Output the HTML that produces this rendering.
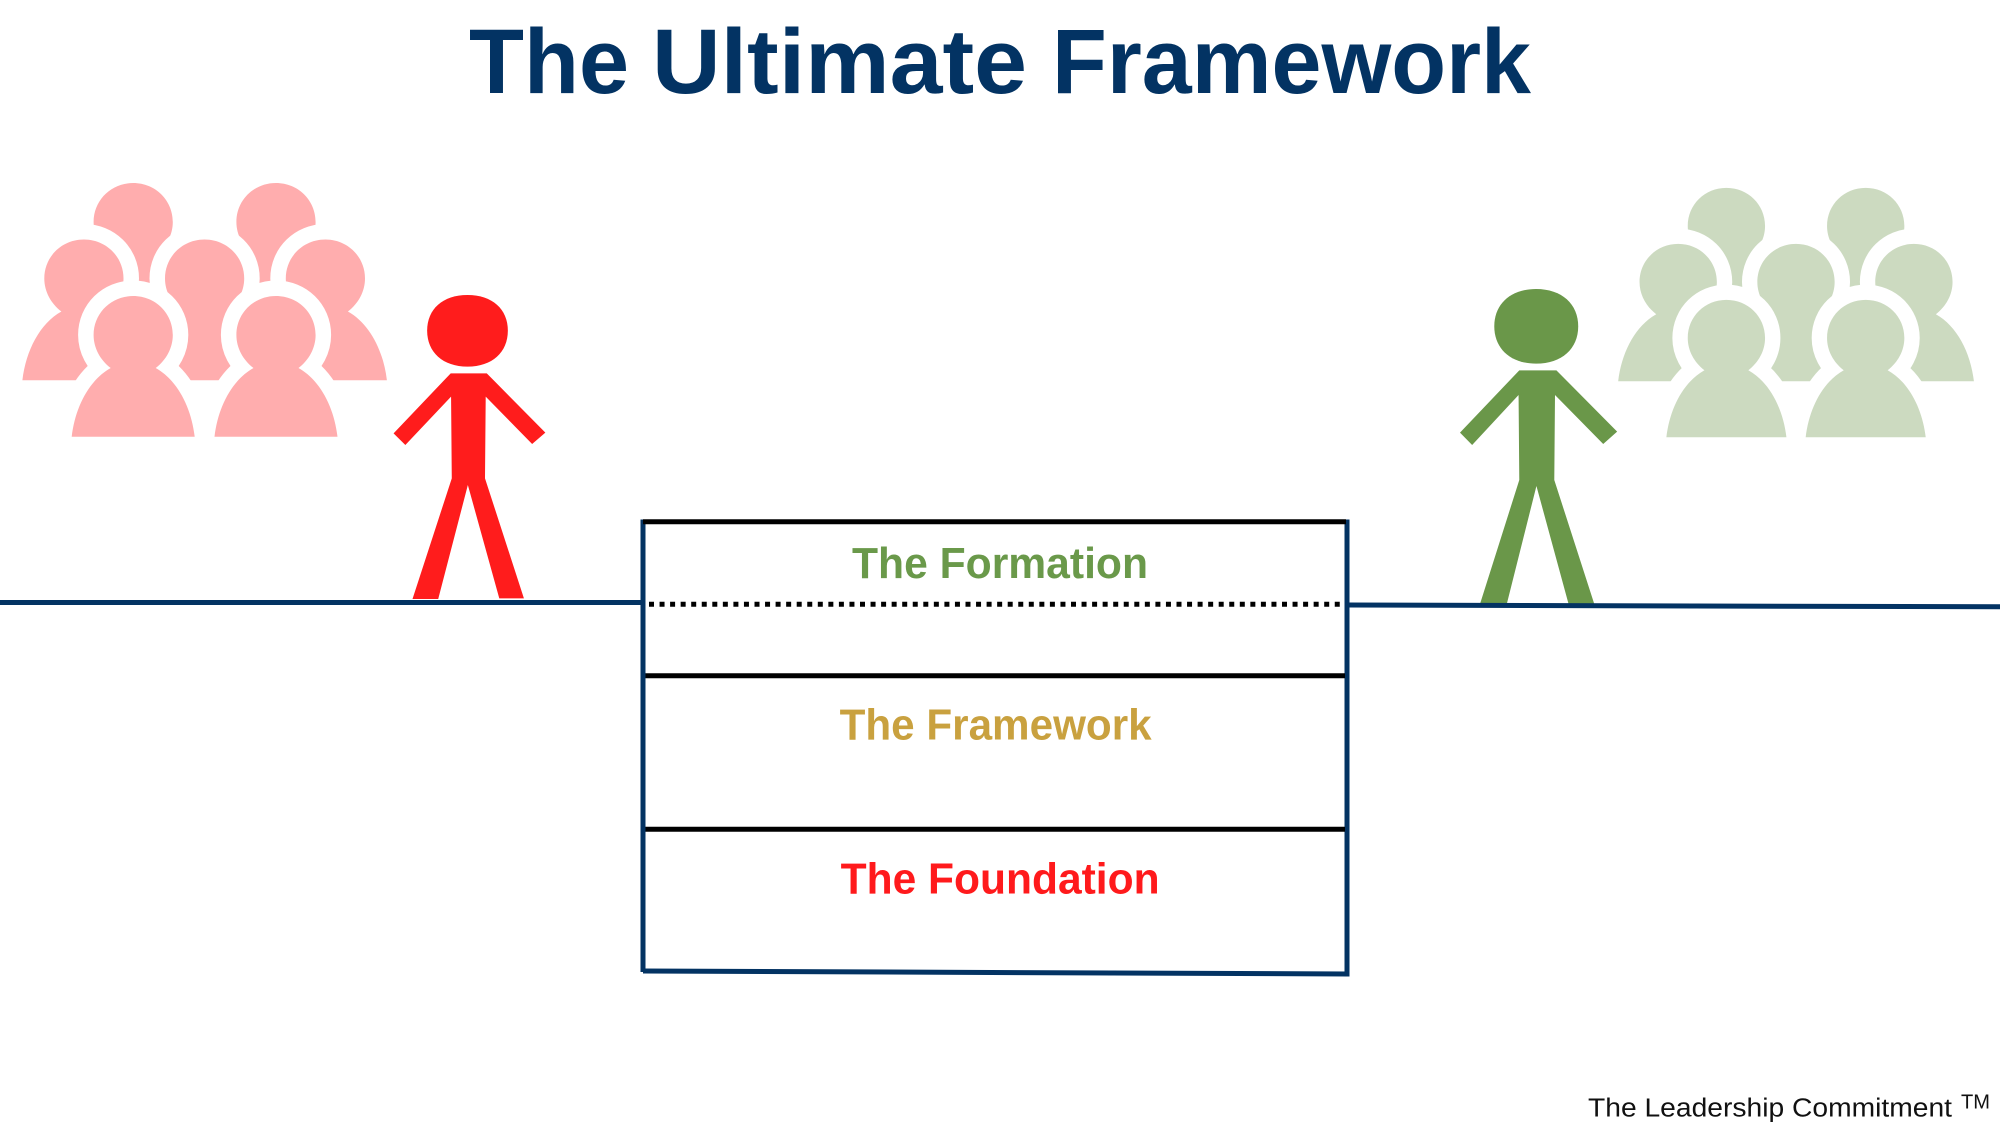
<!DOCTYPE html>
<html>
<head>
<meta charset="utf-8">
<title>The Ultimate Framework</title>
<style>
html,body{margin:0;padding:0;background:#fff;width:2000px;height:1125px;overflow:hidden}
svg{display:block}
text{font-family:"Liberation Sans",sans-serif}
</style>
</head>
<body>
<svg width="2000" height="1125" viewBox="0 0 2000 1125" xmlns="http://www.w3.org/2000/svg">
<defs>
<path id="p" d="M-22.5,33 C-44,45 -58,72 -61.5,101.7 H61.5 C58,72 44,45 22.5,33 C33,25 39.6,13 39.6,0 C39.6,-22 22,-39 0,-39 C-22,-39 -39.6,-22 -39.6,0 C-39.6,13 -33,25 -22.5,33 Z"/>
</defs>
<rect width="2000" height="1125" fill="#fff"/>

<text x="469" y="93" font-size="92" font-weight="700" fill="#033363" textLength="160" lengthAdjust="spacingAndGlyphs">The</text>
<text x="652" y="93" font-size="92" font-weight="700" fill="#033363" textLength="375" lengthAdjust="spacingAndGlyphs">Ultimate</text>
<text x="1052" y="93" font-size="92" font-weight="700" fill="#033363" textLength="479" lengthAdjust="spacingAndGlyphs">Framework</text>

<!-- red crowd -->
<g fill="#ffadae" stroke="#fff" stroke-width="31" stroke-linejoin="round" paint-order="stroke">
<use href="#p" transform="translate(133.2,222)"/>
<use href="#p" transform="translate(276,222)"/>
<use href="#p" transform="translate(83.9,278.5)"/>
<use href="#p" transform="translate(204.6,278.5)"/>
<use href="#p" transform="translate(325.4,278.5)"/>
<use href="#p" transform="translate(133.2,335)"/>
<use href="#p" transform="translate(276,335)"/>
</g>

<!-- green crowd -->
<g fill="#ccdac0" stroke="#fff" stroke-width="31.5" stroke-linejoin="round" paint-order="stroke">
<use href="#p" transform="translate(1726.4,226) scale(.976)"/>
<use href="#p" transform="translate(1865.7,226) scale(.976)"/>
<use href="#p" transform="translate(1678.2,282) scale(.976)"/>
<use href="#p" transform="translate(1796,282) scale(.976)"/>
<use href="#p" transform="translate(1913.9,282) scale(.976)"/>
<use href="#p" transform="translate(1726.4,338) scale(.976)"/>
<use href="#p" transform="translate(1865.7,338) scale(.976)"/>
</g>

<!-- red stick figure -->
<g transform="translate(0,160) scale(.35714,.33333)" fill="#ff1c1c">
<path d="M1196,512 C1196,447 1240,405 1309,405 C1378,405 1422,447 1422,512 C1422,577 1378,620 1309,620 C1240,620 1196,577 1196,512 Z"/>
<polygon points="1262,640 1363,640 1527,818 1490,852 1360,710 1358,955 1467,1315 1398,1315 1310,975 1227,1317 1155,1317 1265,955 1263,710 1135,855 1102,820"/>
</g>

<!-- green stick figure -->
<g transform="translate(1440,160) scale(.35714,.33333)" fill="#6a9749">
<path d="M152,499 C152,432 198,387 269,387 C341,387 387,432 387,499 C387,566 341,611 269,611 C198,611 152,566 152,499 Z"/>
<polygon points="222,631 326,631 496,815 457,852 322,705 320,960 432,1332 360,1332 270,978 187,1332 112,1332 222,960 220,705 90,855 56,818"/>
</g>

<!-- ground lines -->
<line x1="0" y1="602.5" x2="643" y2="602.5" stroke="#033363" stroke-width="5"/>
<line x1="1347" y1="605" x2="2000" y2="606.8" stroke="#033363" stroke-width="5"/>

<!-- box -->
<line x1="643" y1="519.5" x2="643" y2="972" stroke="#033363" stroke-width="5"/>
<line x1="1347" y1="519.5" x2="1347" y2="976.5" stroke="#033363" stroke-width="5"/>
<line x1="643" y1="971" x2="1349" y2="974" stroke="#033363" stroke-width="5"/>
<line x1="643" y1="521.7" x2="1346" y2="521.7" stroke="#000" stroke-width="5"/>
<line x1="645.5" y1="675.7" x2="1345" y2="675.7" stroke="#000" stroke-width="5"/>
<line x1="645.5" y1="829.3" x2="1345" y2="829.3" stroke="#000" stroke-width="5"/>
<line x1="649" y1="604.3" x2="1345" y2="604.3" stroke="#000" stroke-width="5" stroke-dasharray="5 5.55"/>

<!-- labels -->
<text x="852" y="578" font-size="43.5" font-weight="700" fill="#6a994a" textLength="296" lengthAdjust="spacingAndGlyphs">The Formation</text>
<text x="839.6" y="739.5" font-size="43.5" font-weight="700" fill="#c9a13f" textLength="312" lengthAdjust="spacingAndGlyphs">The Framework</text>
<text x="840.6" y="893.3" font-size="43.5" font-weight="700" fill="#ff1a1c" textLength="319" lengthAdjust="spacingAndGlyphs">The Foundation</text>

<!-- footer -->
<text x="1588" y="1116.7" font-size="25.5" fill="#111" textLength="364" lengthAdjust="spacingAndGlyphs">The Leadership Commitment</text>
<text x="1961" y="1108.3" font-size="20" fill="#111" textLength="29" lengthAdjust="spacingAndGlyphs">TM</text>
</svg>
</body>
</html>
